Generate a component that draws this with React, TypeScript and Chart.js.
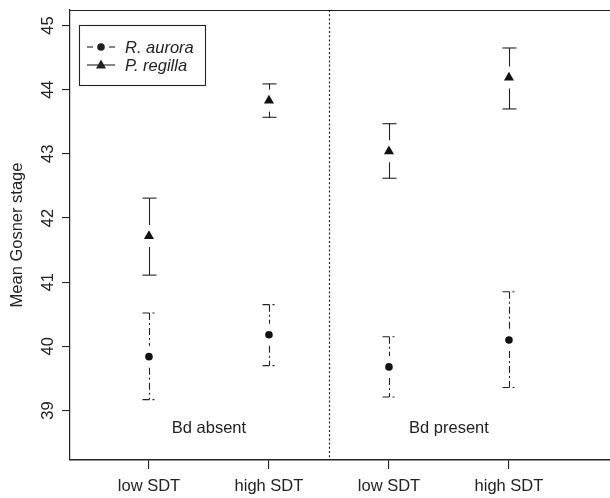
import React, { useEffect, useRef } from "react";
import { Chart, registerables } from "chart.js";

Chart.register(...registerables);

const categories = ["low SDT", "high SDT", "low SDT", "high SDT"];
const xPositions = [1, 2, 3, 4];
const auroraMean = [39.84, 40.18, 39.68, 40.1];
const auroraLo = [39.17, 39.7, 39.21, 39.36];
const auroraHi = [40.52, 40.65, 40.15, 40.85];
const regillaMean = [41.72, 43.83, 43.04, 44.19];
const regillaLo = [41.11, 43.57, 42.62, 43.7];
const regillaHi = [42.31, 44.09, 43.47, 44.65];
const yTicks = [39, 40, 41, 42, 43, 44, 45];
const groupLabels = ["Bd absent", "Bd present"];
const groupCenters = [1.5, 3.5];
const groupLabelY = 38.72;
const dividerX = 2.5;
const seriesNames = ["R. aurora", "P. regilla"];

const FONT = "'Liberation Sans', Arial, Helvetica, sans-serif";
const INK = "#222";

const overlay = {
  id: "overlay",
  afterDraw(chart: any) {
    const { ctx, chartArea: a } = chart;
    const x = chart.scales.x;
    const y = chart.scales.y;
    ctx.save();
    ctx.strokeStyle = INK;
    ctx.fillStyle = INK;
    const line = (x1: number, y1: number, x2: number, y2: number) => {
      ctx.beginPath();
      ctx.moveTo(x1, y1);
      ctx.lineTo(x2, y2);
      ctx.stroke();
    };
    // top border
    ctx.lineWidth = 1.2;
    line(a.left, a.top + 0.5, a.right, a.top + 0.5);
    // divider
    ctx.lineWidth = 1.2;
    ctx.setLineDash([2, 2.2]);
    const dx = Math.round(x.getPixelForValue(dividerX)) + 0.5;
    line(dx, a.top, dx, a.bottom);
    ctx.setLineDash([]);

    // error bars
    const bars = (mean: number[], lo: number[], hi: number[], dash: number[]) => {
      ctx.lineWidth = 1.1;
      ctx.setLineDash(dash);
      for (let i = 0; i < xPositions.length; i++) {
        const px = Math.round(x.getPixelForValue(xPositions[i])) + 0.5;
        const pm = y.getPixelForValue(mean[i]);
        const pl = y.getPixelForValue(lo[i]);
        const ph = y.getPixelForValue(hi[i]);
        const gap = 11;
        line(px, ph, px, pm - gap);
        line(px, pm + gap, px, pl);
        line(px - 7, ph, px + 7, ph);
        line(px - 7, pl, px + 7, pl);
      }
      ctx.setLineDash([]);
    };
    bars(auroraMean, auroraLo, auroraHi, [7, 3, 2, 3]);
    bars(regillaMean, regillaLo, regillaHi, []);

    // y tick labels, rotated like R
    ctx.font = `16.5px ${FONT}`;
    ctx.textAlign = "center";
    ctx.textBaseline = "middle";
    for (const v of yTicks) {
      ctx.save();
      ctx.translate(a.left - 22, y.getPixelForValue(v));
      ctx.rotate(-Math.PI / 2);
      ctx.fillText(String(v), 0, 0);
      ctx.restore();
    }

    // group labels
    for (let i = 0; i < groupLabels.length; i++) {
      ctx.fillText(groupLabels[i], x.getPixelForValue(groupCenters[i]), y.getPixelForValue(groupLabelY));
    }

    // legend
    const bx = a.left + 9, by = a.top + 15, bw = 126, bh = 60;
    ctx.lineWidth = 1.1;
    ctx.strokeRect(bx + 0.5, by + 0.5, bw, bh);
    const r1 = by + 22, r2 = by + 40;
    const lx = bx + 8, mx = bx + 22, tx = bx + 46;
    // aurora: dashed with dot
    line(lx, r1, lx + 6, r1);
    line(mx + 8, r1, mx + 14, r1);
    ctx.beginPath();
    ctx.arc(mx, r1, 3.8, 0, Math.PI * 2);
    ctx.fill();
    // regilla: solid with triangle
    line(lx, r2, lx + 28, r2);
    ctx.beginPath();
    ctx.moveTo(mx, r2 - 5.5);
    ctx.lineTo(mx + 5, r2 + 3.5);
    ctx.lineTo(mx - 5, r2 + 3.5);
    ctx.closePath();
    ctx.fill();
    ctx.font = `italic 16.5px ${FONT}`;
    ctx.textAlign = "left";
    ctx.fillText(seriesNames[0], tx, r1 + 1);
    ctx.fillText(seriesNames[1], tx, r2 + 1);
    ctx.restore();
  },
};

export default function App() {
  const ref = useRef<HTMLCanvasElement | null>(null);
  useEffect(() => {
    if (!ref.current) return;
    const chart = new Chart(ref.current, {
      type: "scatter",
      data: {
        datasets: [
          {
            label: seriesNames[0],
            data: xPositions.map((xv, i) => ({ x: xv, y: auroraMean[i] })),
            pointStyle: "circle",
            pointRadius: 3.8,
            backgroundColor: "#111",
            borderColor: "#111",
            borderWidth: 0,
            showLine: false,
          },
          {
            label: seriesNames[1],
            data: xPositions.map((xv, i) => ({ x: xv, y: regillaMean[i] })),
            pointStyle: "triangle",
            pointRadius: 5.8,
            backgroundColor: "#111",
            borderColor: "#111",
            borderWidth: 0,
            showLine: false,
          },
        ],
      },
      options: {
        animation: false,
        responsive: false,
        maintainAspectRatio: false,
        devicePixelRatio: 1,
        layout: { autoPadding: false, padding: { top: 10, right: 0, left: 0, bottom: 0 } },
        plugins: { legend: { display: false }, tooltip: { enabled: false } },
        scales: {
          x: {
            type: "linear",
            min: 0.342,
            max: 4.842,
            afterBuildTicks: (s: any) => {
              s.ticks = xPositions.map((v) => ({ value: v }));
            },
            afterFit: (s: any) => {
              s.height = 38;
              s.paddingLeft = 0;
              s.paddingRight = 0;
            },
            ticks: {
              callback: (v: any) => categories[xPositions.indexOf(Number(v))] ?? "",
              font: { family: FONT, size: 16.5 },
              color: INK,
              padding: 8,
              maxRotation: 0,
              minRotation: 0,
              autoSkip: false,
            },
            grid: { drawOnChartArea: false, drawTicks: true, tickLength: 9, color: INK, lineWidth: 1.1 },
            border: { display: true, color: INK, width: 1.6 },
          },
          y: {
            type: "linear",
            min: 38.229,
            max: 45.242,
            afterBuildTicks: (s: any) => {
              s.ticks = yTicks.map((v) => ({ value: v }));
            },
            afterFit: (s: any) => {
              s.width = 70;
              s.paddingTop = 0;
              s.paddingBottom = 0;
            },
            ticks: { display: false },
            grid: { drawOnChartArea: false, drawTicks: true, tickLength: 8, color: INK, lineWidth: 1.1 },
            border: { display: true, color: INK, width: 1.2 },
            title: {
              display: true,
              text: "Mean Gosner stage",
              font: { family: FONT, size: 16.5 },
              color: INK,
              padding: { top: 8, bottom: 0 },
            },
          },
        },
      },
      plugins: [overlay],
    } as any);
    return () => chart.destroy();
  }, []);
  return (
    <div style={{ position: "fixed", left: 0, top: 0, width: 610, height: 498, background: "#fff" }}>
      <canvas ref={ref} width={610} height={498} style={{ display: "block", width: 610, height: 498 }} />
    </div>
  );
}
